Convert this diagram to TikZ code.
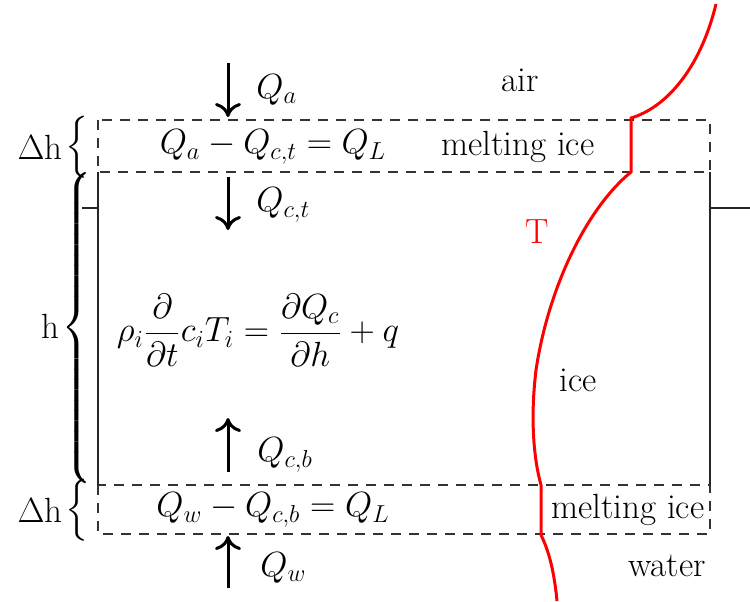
\RequirePackage{fix-cm}
\documentclass[tikz,border=0pt]{standalone}
\usepackage{amsmath}
\usetikzlibrary{arrows.meta}
\begin{document}
\begin{tikzpicture}[x=0.5pt,y=-0.5pt,
  font=\fontsize{17.5}{21}\selectfont,
  dbox/.style={draw=black!80,line width=0.7pt,dash pattern=on 5pt off 4pt},
  solidline/.style={draw=black!85,line width=0.7pt},
  flux/.style={line width=1.5pt,-{Computer Modern Rightarrow[length=7pt,width=13pt]}},
  temp/.style={red,line width=1.5pt},
  lbl/.style={inner sep=0pt}]
\useasboundingbox (0,0) rectangle (750,601);
% boxes
\coordinate (tl) at (98,120); \coordinate (tr) at (710,172);
\coordinate (bl) at (98,485); \coordinate (br) at (710,534);
\draw[dbox] (tl) rectangle (tr);
\draw[dbox] (bl) rectangle (br);
\coordinate (il1) at (98,172); \coordinate (il2) at (98,485);
\coordinate (ir1) at (710,172); \coordinate (ir2) at (710,485);
\draw[solidline] (il1) -- (il2);
\draw[solidline] (ir1) -- (ir2);
\coordinate (tickl1) at (82,208); \coordinate (tickl2) at (98,208);
\coordinate (tickr1) at (710,208); \coordinate (tickr2) at (750,208);
\draw[solidline] (tickl1) -- (tickl2);
\draw[solidline] (tickr1) -- (tickr2);
% braces
\node[lbl] (b1) at (78,147) {$\left\{\vcenter{\hbox{\vrule height 26pt width 0pt}}\right.$};
\node[lbl] (b2) at (78,328) {$\left\{\vcenter{\hbox{\vrule height 156pt width 0pt}}\right.$};
\node[lbl] (b3) at (78,510) {$\left\{\vcenter{\hbox{\vrule height 24pt width 0pt}}\right.$};
\node[lbl,anchor=east] (dh1) at (63,147) {$\Delta$h};
\node[lbl,anchor=east] (hh) at (60,326) {h};
\node[lbl,anchor=east] (dh2) at (63,510) {$\Delta$h};
% flux arrows
\coordinate (a1s) at (228,63); \coordinate (a1e) at (228,117);
\coordinate (a2s) at (228,177); \coordinate (a2e) at (228,230);
\coordinate (a3s) at (228,472); \coordinate (a3e) at (228,418);
\coordinate (a4s) at (228,588); \coordinate (a4e) at (228,536);
\draw[flux] (a1s) -- (a1e);
\draw[flux] (a2s) -- (a2e);
\draw[flux] (a3s) -- (a3e);
\draw[flux] (a4s) -- (a4e);
\node[lbl,anchor=west] (qa) at (256,90) {$Q_a$};
\node[lbl,anchor=west] (qct) at (256,205) {$Q_{c,t}$};
\node[lbl,anchor=west] (qcb) at (257,455) {$Q_{c,b}$};
\node[lbl,anchor=west] (qw) at (260,568) {$Q_w$};
% texts
\node (air) at (520,80) {air};
\node (eqt) at (273,147) {$Q_a - Q_{c,t} = Q_L$};
\node (mit) at (518,147) {melting ice};
\node[red] (T) at (537,232) {T};
\node (eqm) at (258,330) {$\displaystyle \rho_i \frac{\partial}{\partial t} c_i T_i = \frac{\partial Q_c}{\partial h} + q$};
\node (ice) at (578,380) {ice};
\node (eqb) at (273,510) {$Q_w - Q_{c,b} = Q_L$};
\node (mib) at (628,510) {melting ice};
\node (wat) at (667,566) {water};
% temperature profile
\coordinate (c0) at (716,4);
\coordinate (c1) at (631,118); \coordinate (c2) at (631,172);
\coordinate (cm) at (536,370);
\coordinate (c3) at (541,485); \coordinate (c4) at (541,535);
\coordinate (c5) at (557,601);
\draw[temp] (c0) .. controls (700,70) and (665,108) .. (c1)
  -- (c2)
  .. controls (585,210) and (548,290) .. (cm)
  .. controls (530,420) and (534,460) .. (c3)
  -- (c4)
  .. controls (551,555) and (555,580) .. (c5);
\end{tikzpicture}
\end{document}
